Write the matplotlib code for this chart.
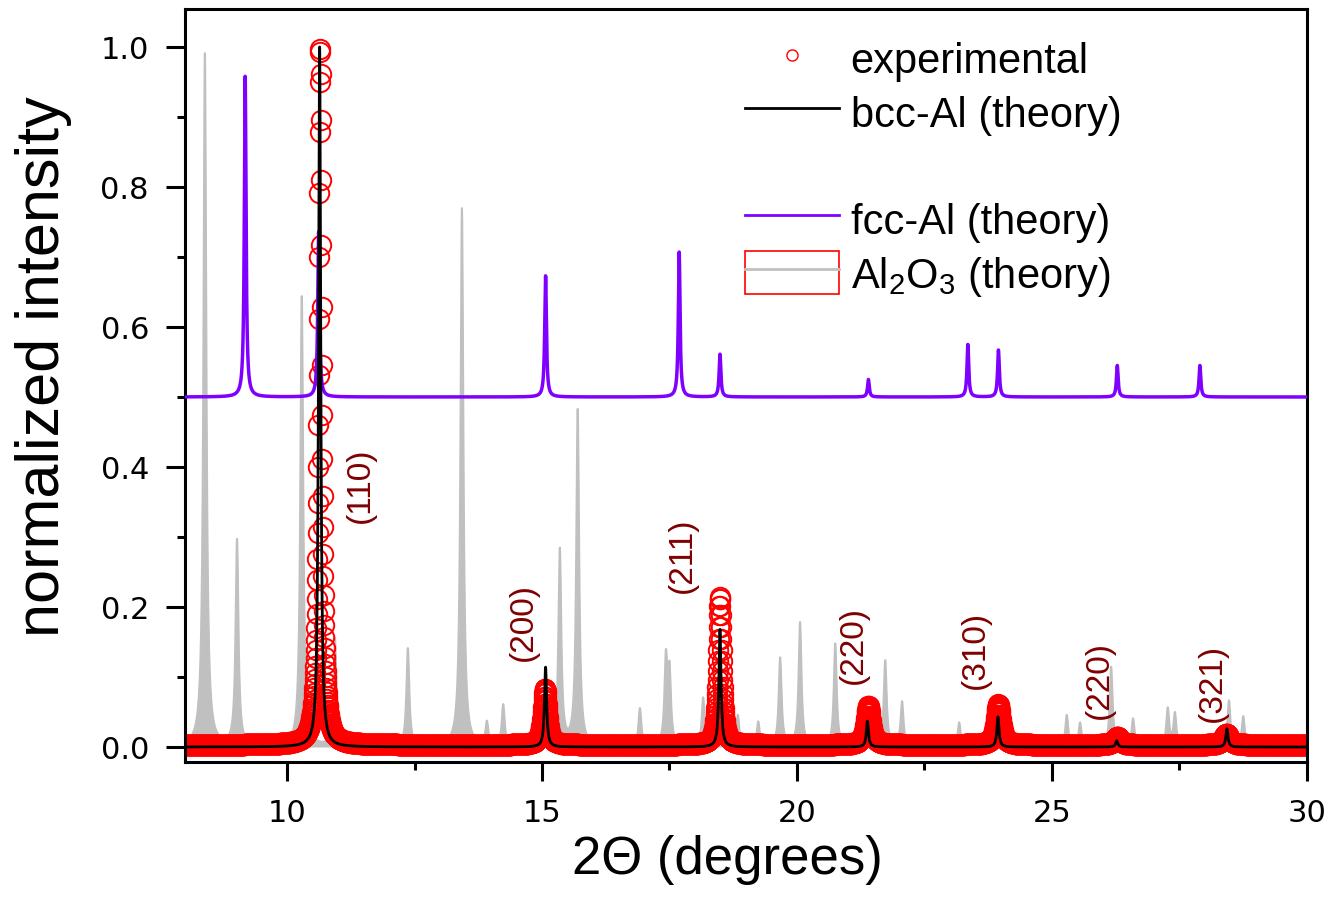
import numpy as np
import matplotlib
matplotlib.use('Agg')
import matplotlib.pyplot as plt
from matplotlib.lines import Line2D
from matplotlib.patches import Rectangle
from matplotlib.ticker import MultipleLocator, FormatStrFormatter

plt.rcParams['font.family'] = ['DejaVu Sans']
plt.rcParams['mathtext.fontset'] = 'custom'
plt.rcParams['mathtext.rm'] = 'Liberation Sans'
plt.rcParams['mathtext.default'] = 'regular'

# peak lists: position (2theta, deg), height, half width
exp_pos = [10.653, 15.06, 18.49, 21.40, 23.95, 26.28, 28.42]
exp_height = [0.997, 0.080, 0.211, 0.056, 0.058, 0.011, 0.016]
exp_hwhm = [0.035, 0.05, 0.04, 0.06, 0.06, 0.07, 0.07]
exp_base = 0.003

bcc_pos = [10.64, 15.07, 18.49, 21.38, 23.94, 26.27, 28.43]
bcc_height = [1.0, 0.114, 0.168, 0.037, 0.043, 0.009, 0.026]
bcc_hwhm = 0.025

fcc_pos = [9.18, 10.62, 15.07, 17.69, 18.49, 21.40, 23.35, 23.95, 26.28, 27.90]
fcc_height = [0.458, 0.236, 0.173, 0.207, 0.061, 0.025, 0.075, 0.067, 0.045, 0.045]
fcc_base = 0.5
fcc_hwhm = 0.02

al2o3_pos = [8.39, 9.02, 10.29, 10.94, 12.37, 13.43, 13.92, 14.24, 15.35, 15.70,
             16.92, 17.43, 17.50, 18.16, 18.84, 19.24, 19.67, 20.06, 20.75, 21.73,
             22.06, 23.18, 25.29, 25.55, 26.16, 26.59, 27.27, 27.41, 28.47, 28.75]
al2o3_height = [0.990, 0.294, 0.643, 0.154, 0.140, 0.769, 0.033, 0.059, 0.280, 0.480,
                0.054, 0.121, 0.100, 0.070, 0.045, 0.035, 0.126, 0.177, 0.147, 0.123,
                0.064, 0.035, 0.045, 0.034, 0.114, 0.040, 0.054, 0.047, 0.066, 0.043]
al2o3_hwhm = 0.033

hkl_labels = ['(110)', '(200)', '(211)', '(220)', '(310)', '(220)', '(321)']
hkl_x = [11.43, 14.63, 17.76, 21.10, 23.50, 25.92, 28.14]
hkl_y = [0.376, 0.180, 0.276, 0.147, 0.140, 0.097, 0.093]

purple = '#7F00FF'
gray = '#C0C0C0'


def profile(x, pos, height, hwhm, base=0.0):
    widths = np.broadcast_to(hwhm, (len(pos),))
    y = np.full_like(x, base)
    for p, h, w in zip(pos, height, widths):
        y += h / (1 + ((x - p) / w) ** 2)
    return y


x_exp = np.arange(8.0, 30.0, 0.005)
x_th = np.arange(8.0, 30.0, 0.002)
x_al = np.arange(8.0, 30.0, 0.005)

y_exp = profile(x_exp, exp_pos, exp_height, exp_hwhm, exp_base)
y_bcc = profile(x_th, bcc_pos, bcc_height, bcc_hwhm)
y_fcc = profile(x_th, fcc_pos, fcc_height, fcc_hwhm, fcc_base)
y_al = profile(x_al, al2o3_pos, al2o3_height, al2o3_hwhm)

fig = plt.figure(figsize=(13.3, 9.04), dpi=100)
ax = fig.add_axes([0.1391, 0.156, 0.8436, 0.833])

ax.fill_between(x_al, y_al, 0, color=gray, lw=0, zorder=1)
ax.plot(x_al, y_al, color=gray, lw=1.5, zorder=1)
ax.plot(x_exp, y_exp, 'o', mfc='none', mec='red', ms=14, mew=1.4, zorder=2)
ax.plot(x_th, y_fcc, color=purple, lw=2.5, zorder=3)
ax.plot(x_th, y_bcc, color='black', lw=2, zorder=4)

for s, tx, ty in zip(hkl_labels, hkl_x, hkl_y):
    ax.text(tx, ty, s, rotation=90, ha='center', va='center', fontsize=24,
            color='#800000', fontfamily='Liberation Sans', zorder=5)

ax.set_xlim(8, 30)
ax.set_ylim(-0.0214, 1.0543)
ax.xaxis.set_major_locator(MultipleLocator(5))
ax.xaxis.set_minor_locator(MultipleLocator(2.5))
ax.yaxis.set_major_locator(MultipleLocator(0.2))
ax.yaxis.set_minor_locator(MultipleLocator(0.1))
ax.yaxis.set_major_formatter(FormatStrFormatter('%.1f'))
ax.tick_params(which='major', direction='out', length=14, width=2.2,
               labelsize=22, pad=12)
ax.tick_params(which='minor', direction='out', length=6, width=2.2)
for sp in ax.spines.values():
    sp.set_linewidth(2.2)

ax.set_xlabel('2Θ (degrees)', fontsize=38, fontfamily='Liberation Sans')
ax.xaxis.set_label_coords(0.483, -0.095)
ax.set_ylabel('normalized intensity', fontsize=44, fontfamily='Liberation Sans')
ax.yaxis.set_label_coords(-0.101, 0.526)

# legend (with the empty row as in the original)
h_exp = Line2D([], [], ls='none', marker='o', mfc='none', mec='red', ms=8, mew=1)
h_bcc = Line2D([], [], color='black', lw=2)
h_blank = Line2D([], [], ls='none')
h_fcc = Line2D([], [], color=purple, lw=2)
h_al = (Rectangle((0, 0), 1, 1, fc='white', ec='red', lw=1.2),
        Line2D([], [], color=gray, lw=2))
ax.legend([h_exp, h_bcc, h_blank, h_fcc, h_al],
          ['experimental', 'bcc-Al (theory)', ' ', 'fcc-Al (theory)',
           'Al$_2$O$_3$ (theory)'],
          loc='upper left', bbox_to_anchor=(0.499, 0.963), frameon=False,
          borderpad=0, borderaxespad=0, labelspacing=0.22, handlelength=2.26,
          handleheight=1.2, handletextpad=0.28, numpoints=1,
          prop={'family': 'Liberation Sans', 'size': 30})

fig.savefig('out.png', dpi=100)
